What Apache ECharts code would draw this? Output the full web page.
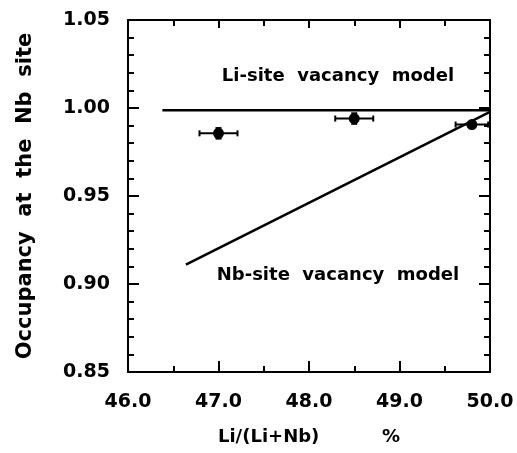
<!DOCTYPE html>
<html>
<head>
<meta charset="utf-8">
<script src="https://cdn.jsdelivr.net/npm/echarts@6/dist/echarts.min.js"></script>
<style>
  html, body { margin: 0; padding: 0; background: #fff; }
  #chart { width: 517px; height: 453px; }
</style>
</head>
<body>
<div id="chart"></div>
<script>
// measured points (Li content %, Nb-site occupancy)
var pointX = [47.0, 48.5, 49.8];
var pointY = [0.9856, 0.9940, 0.9906];
var pointXErr = [0.21, 0.21, 0.18];
var pointYErr = [0.003, 0.003, 0.002];

// model lines
var liModelX = [46.38, 50.0];
var liModelY = [0.9987, 0.9987];
var nbModelX = [46.64, 50.0];
var nbModelY = [0.911, 0.9978];

// text labels inside the plot
var noteText = ['Li-site  vacancy  model', 'Nb-site  vacancy  model'];
var noteX = [48.32, 48.32];
var noteY = [1.018, 0.905];

var xTicks = [46, 50, 1];      // min, max, interval
var yTicks = [0.85, 1.05, 0.05];

var font = 'DejaVu Sans';

function zip(a, b) {
  return a.map(function (v, i) { return [v, b[i]]; });
}

var points = pointX.map(function (x, i) {
  return [x, pointY[i], pointXErr[i], pointYErr[i]];
});

var notes = noteText.map(function (t, i) {
  return [noteX[i], noteY[i], t];
});

// error bars + marker drawn with the axis scales
function renderPoint(params, api) {
  var x = api.value(0), y = api.value(1), dx = api.value(2), dy = api.value(3);
  var c = api.coord([x, y]);
  var l = api.coord([x - dx, y]);
  var r = api.coord([x + dx, y]);
  var t = api.coord([x, y + dy]);
  var b = api.coord([x, y - dy]);
  var st = { stroke: '#000', lineWidth: 2 };
  var cap = 3;
  return {
    type: 'group',
    children: [
      { type: 'line', shape: { x1: l[0], y1: l[1], x2: r[0], y2: r[1] }, style: st },
      { type: 'line', shape: { x1: l[0], y1: l[1] - cap, x2: l[0], y2: l[1] + cap }, style: st },
      { type: 'line', shape: { x1: r[0], y1: r[1] - cap, x2: r[0], y2: r[1] + cap }, style: st },
      { type: 'line', shape: { x1: t[0], y1: t[1], x2: b[0], y2: b[1] }, style: st },
      { type: 'line', shape: { x1: t[0] - cap, y1: t[1], x2: t[0] + cap, y2: t[1] }, style: st },
      { type: 'line', shape: { x1: b[0] - cap, y1: b[1], x2: b[0] + cap, y2: b[1] }, style: st },
      { type: 'circle', shape: { cx: c[0], cy: c[1], r: 5.5 }, style: { fill: '#000' } }
    ]
  };
}

function renderNote(params, api) {
  var c = api.coord([api.value(0), api.value(1)]);
  return {
    type: 'text',
    x: c[0], y: c[1],
    style: {
      text: notes[params.dataIndex][2],
      fill: '#000',
      font: 'bold 18px "' + font + '"',
      align: 'center', verticalAlign: 'middle'
    }
  };
}

var axisLine = { show: true, onZero: false, lineStyle: { color: '#000', width: 2 } };

var chart = echarts.init(document.getElementById('chart'));
chart.setOption({
  animation: false,
  backgroundColor: '#fff',
  grid: { left: 128, right: 27, top: 20, bottom: 81 },
  xAxis: [{
    type: 'value', min: xTicks[0], max: xTicks[1], interval: xTicks[2],
    position: 'bottom',
    name: 'Li/(Li+Nb)          %', nameLocation: 'middle', nameGap: 56,
    nameTextStyle: { fontFamily: font, fontWeight: 'bold', fontSize: 18, color: '#000' },
    axisLine: axisLine,
    axisTick: { inside: true, length: 11, lineStyle: { color: '#000', width: 2 } },
    minorTick: { show: true, splitNumber: 2, length: 6, lineStyle: { color: '#000', width: 2 } },
    axisLabel: { margin: 21, fontFamily: font, fontWeight: 'bold', fontSize: 19, color: '#000',
      formatter: function (v) { return v.toFixed(1); } },
    splitLine: { show: false }
  }, {
    type: 'value', min: xTicks[0], max: xTicks[1], interval: xTicks[2],
    position: 'top',
    axisLine: axisLine,
    axisTick: { inside: true, length: 8, lineStyle: { color: '#000', width: 2 } },
    minorTick: { show: true, splitNumber: 2, length: 6, lineStyle: { color: '#000', width: 2 } },
    axisLabel: { show: false },
    splitLine: { show: false }
  }],
  yAxis: [{
    type: 'value', min: yTicks[0], max: yTicks[1], interval: yTicks[2],
    position: 'left',
    name: 'Occupancy  at  the  Nb  site', nameLocation: 'middle', nameGap: 92,
    nameTextStyle: { fontFamily: font, fontWeight: 'bold', fontSize: 21, color: '#000' },
    axisLine: axisLine,
    axisTick: { inside: true, length: 11, lineStyle: { color: '#000', width: 2 } },
    minorTick: { show: true, splitNumber: 5, length: 6, lineStyle: { color: '#000', width: 2 } },
    axisLabel: { margin: 18, fontFamily: font, fontWeight: 'bold', fontSize: 19, color: '#000',
      formatter: function (v) { return v.toFixed(2); } },
    splitLine: { show: false }
  }, {
    type: 'value', min: yTicks[0], max: yTicks[1], interval: yTicks[2],
    position: 'right',
    axisLine: axisLine,
    axisTick: { inside: true, length: 11, lineStyle: { color: '#000', width: 2 } },
    minorTick: { show: true, splitNumber: 5, length: 6, lineStyle: { color: '#000', width: 2 } },
    axisLabel: { show: false },
    splitLine: { show: false }
  }],
  series: [{
    type: 'line', data: zip(liModelX, liModelY), symbol: 'none',
    lineStyle: { color: '#000', width: 2.5 }
  }, {
    type: 'line', data: zip(nbModelX, nbModelY), symbol: 'none',
    lineStyle: { color: '#000', width: 2.5 }
  }, {
    type: 'custom', renderItem: renderPoint, data: points, clip: true,
    encode: { x: 0, y: 1 }
  }, {
    type: 'custom', renderItem: renderNote, data: notes,
    encode: { x: 0, y: 1 }
  }]
});
</script>
</body>
</html>
